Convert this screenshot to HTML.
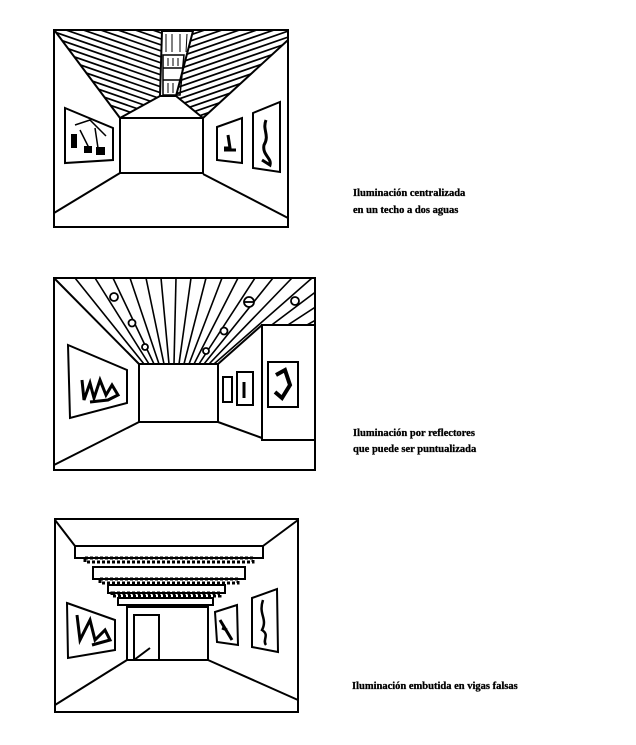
<!DOCTYPE html>
<html><head><meta charset="utf-8"><style>
html,body{margin:0;padding:0;background:#fff;}
svg{display:block}
.t{font-family:"Liberation Serif",serif;font-weight:bold;font-size:10.5px;fill:#000;stroke:#000;stroke-width:0.3}
</style></head><body>
<svg width="636" height="745" viewBox="0 0 636 745" xmlns="http://www.w3.org/2000/svg">
<defs>
<clipPath id="lr"><polygon points="55,31 162,31 160,96 120,118"/></clipPath>
<clipPath id="rr"><polygon points="193,31 288,31 288,40 203,118 176,96"/></clipPath>
<clipPath id="c2"><polygon points="54,278 315,278 315,325 262,325 218,364 139,364"/></clipPath>
</defs>
<g fill="none" stroke="#000" stroke-width="2">
<!-- PANEL 1 -->
<rect x="54" y="30" width="234" height="197"/>
<rect x="120" y="118" width="83" height="55"/>
<line x1="55" y1="31" x2="120" y2="118"/>
<line x1="288" y1="40" x2="203" y2="118"/>
<line x1="120" y1="173" x2="54" y2="213"/>
<line x1="203" y1="174" x2="288" y2="218"/>
<line x1="120" y1="118" x2="160" y2="96"/>
<line x1="203" y1="118" x2="176" y2="96"/>
<g clip-path="url(#lr)" stroke-width="1.7">
<line x1="40" y1="-15" x2="170" y2="30"/><line x1="40" y1="-9" x2="170" y2="36"/>
<line x1="40" y1="-3" x2="170" y2="42"/><line x1="40" y1="3" x2="170" y2="48"/>
<line x1="40" y1="9" x2="170" y2="54"/><line x1="40" y1="15" x2="170" y2="60"/>
<line x1="40" y1="21" x2="170" y2="66"/><line x1="40" y1="27" x2="170" y2="72"/>
<line x1="40" y1="33" x2="170" y2="78"/><line x1="40" y1="39" x2="170" y2="84"/>
<line x1="40" y1="45" x2="170" y2="90"/><line x1="40" y1="51" x2="170" y2="96"/>
<line x1="40" y1="57" x2="170" y2="102"/><line x1="40" y1="63" x2="170" y2="108"/>
<line x1="40" y1="69" x2="170" y2="114"/><line x1="40" y1="75" x2="170" y2="120"/>
<line x1="40" y1="81" x2="170" y2="126"/>
</g>
<g clip-path="url(#rr)" stroke-width="1.7">
<line x1="170" y1="30" x2="300" y2="-15"/><line x1="170" y1="36" x2="300" y2="-9"/>
<line x1="170" y1="42" x2="300" y2="-3"/><line x1="170" y1="48" x2="300" y2="3"/>
<line x1="170" y1="54" x2="300" y2="9"/><line x1="170" y1="60" x2="300" y2="15"/>
<line x1="170" y1="66" x2="300" y2="21"/><line x1="170" y1="72" x2="300" y2="27"/>
<line x1="170" y1="78" x2="300" y2="33"/><line x1="170" y1="84" x2="300" y2="39"/>
<line x1="170" y1="90" x2="300" y2="45"/><line x1="170" y1="96" x2="300" y2="51"/>
<line x1="170" y1="102" x2="300" y2="57"/><line x1="170" y1="108" x2="300" y2="63"/>
<line x1="170" y1="114" x2="300" y2="69"/><line x1="170" y1="120" x2="300" y2="75"/>
<line x1="170" y1="126" x2="300" y2="81"/>
</g>
<polygon points="162,31 193,31 176,96 160,96" fill="#fff"/>
<polygon points="163,55 184,55 180,95 163,95" stroke-width="1.5"/>
<line x1="163" y1="68" x2="183" y2="68" stroke-width="1.5"/>
<line x1="163" y1="80" x2="181" y2="80" stroke-width="1.5"/>
<line x1="168" y1="58" x2="168" y2="66" stroke-width="1"/><line x1="173" y1="58" x2="173" y2="66" stroke-width="1"/><line x1="178" y1="58" x2="178" y2="66" stroke-width="1"/>
<line x1="168" y1="83" x2="168" y2="93" stroke-width="1"/><line x1="173" y1="83" x2="173" y2="93" stroke-width="1"/>
<line x1="166" y1="34" x2="166" y2="52" stroke-width="1"/><line x1="172" y1="34" x2="172" y2="52" stroke-width="1"/><line x1="180" y1="34" x2="180" y2="52" stroke-width="1"/><line x1="187" y1="34" x2="186" y2="52" stroke-width="1"/>
<polygon points="65,108 113,128 113,160 65,163"/>
<polygon points="217,127 242,118 242,163 217,160"/>
<polygon points="253,113 280,102 280,172 253,168"/>
<path d="M75,125 L90,120 L100,130 L106,136 M80,130 L90,150 M95,128 L98,148" stroke-width="1.5"/>
<rect x="72" y="135" width="4" height="12" fill="#000"/><rect x="85" y="147" width="6" height="5" fill="#000"/><rect x="97" y="148" width="7" height="6" fill="#000"/>
<path d="M224,150 L236,150 M228,135 L230,148 L224,148" stroke-width="3"/>
<path d="M266,120 C262,130 270,135 264,145 C262,155 272,158 270,165 L262,160" stroke-width="3"/>
<!-- PANEL 2 -->
<rect x="54" y="278" width="261" height="192"/>
<rect x="139" y="364" width="79" height="58"/>
<line x1="54" y1="278" x2="139" y2="364"/>
<line x1="218" y1="364" x2="262" y2="325"/>
<line x1="139" y1="422" x2="54" y2="465"/>
<line x1="218" y1="422" x2="262" y2="438"/>
<rect x="262" y="325" width="53" height="115"/>
<g clip-path="url(#c2)" stroke-width="1.6">
<line x1="144" y1="364" x2="75" y2="278"/><line x1="149" y1="364" x2="95" y2="278"/>
<line x1="154" y1="364" x2="113" y2="278"/><line x1="159" y1="364" x2="130" y2="278"/>
<line x1="164" y1="364" x2="146" y2="278"/><line x1="169" y1="364" x2="161" y2="278"/>
<line x1="174" y1="364" x2="176" y2="278"/><line x1="179" y1="364" x2="191" y2="278"/>
<line x1="184" y1="364" x2="206" y2="278"/><line x1="189" y1="364" x2="222" y2="278"/>
<line x1="194" y1="364" x2="238" y2="278"/><line x1="199" y1="364" x2="255" y2="278"/>
<line x1="204" y1="364" x2="273" y2="278"/><line x1="209" y1="364" x2="292" y2="278"/>
<line x1="214" y1="364" x2="312" y2="278"/><line x1="220" y1="364" x2="334" y2="278"/>
<line x1="228" y1="364" x2="360" y2="278"/><line x1="238" y1="364" x2="390" y2="278"/>
</g>
<g stroke-width="1.8" fill="#fff">
<circle cx="114" cy="297" r="4"/><circle cx="132" cy="323" r="3.5"/><circle cx="145" cy="347" r="3"/>
<circle cx="249" cy="302" r="5"/><line x1="244" y1="302" x2="254" y2="302"/>
<circle cx="224" cy="331" r="3.5"/><circle cx="206" cy="351" r="3"/><circle cx="295" cy="301" r="4"/>
</g>
<polygon points="68,345 127,370 127,403 70,418"/>
<path d="M82,380 L84,400 L90,383 L94,398 L100,380 L106,395 L112,385 L118,395 L108,400 L90,402" stroke-width="3"/>
<rect x="223" y="377" width="9" height="25"/>
<rect x="237" y="372" width="16" height="33"/>
<rect x="268" y="362" width="30" height="45"/>
<path d="M276,375 L285,370 L290,385 L282,398 L275,392" stroke-width="4"/>
<line x1="244" y1="382" x2="244" y2="398" stroke-width="3"/>
<!-- PANEL 3 -->
<rect x="55" y="519" width="243" height="193"/>
<rect x="127" y="607" width="81" height="53"/>
<polyline points="134,660 134,615 159,615 159,660"/>
<line x1="134" y1="660" x2="150" y2="648"/>
<line x1="55" y1="520" x2="75" y2="546"/>
<line x1="298" y1="520" x2="263" y2="546"/>
<line x1="127" y1="660" x2="55" y2="705"/>
<line x1="208" y1="660" x2="298" y2="700"/>
<rect x="75" y="546" width="188" height="12"/>
<rect x="85" y="558" width="168" height="4" stroke-dasharray="3,2" stroke-width="3"/>
<rect x="93" y="567" width="152" height="12"/>
<rect x="100" y="579" width="138" height="4" stroke-dasharray="3,2" stroke-width="3"/>
<rect x="108" y="585" width="117" height="8"/>
<rect x="112" y="593" width="108" height="3" stroke-dasharray="3,2" stroke-width="3"/>
<rect x="118" y="598" width="95" height="7"/>
<polygon points="67,603 115,620 115,650 68,658"/>
<path d="M77,615 L80,640 L90,620 L95,640 L105,630 L110,640 L92,645" stroke-width="3"/>
<polygon points="215,612 237,605 238,645 217,642"/>
<path d="M220,620 L232,640 M222,628 L227,630" stroke-width="3"/>
<polygon points="252,598 277,589 278,652 252,647"/>
<path d="M263,600 C258,615 268,618 262,630 C270,635 262,640 266,645" stroke-width="2.5"/>
</g>
<text class="t" x="353" y="196">Iluminación centralizada</text>
<text class="t" x="353" y="213">en un techo a dos aguas</text>
<text class="t" x="353" y="436">Iluminación por reflectores</text>
<text class="t" x="353" y="452">que puede ser puntualizada</text>
<text class="t" x="352" y="689">Iluminación embutida en vigas falsas</text>
</svg>
</body></html>
